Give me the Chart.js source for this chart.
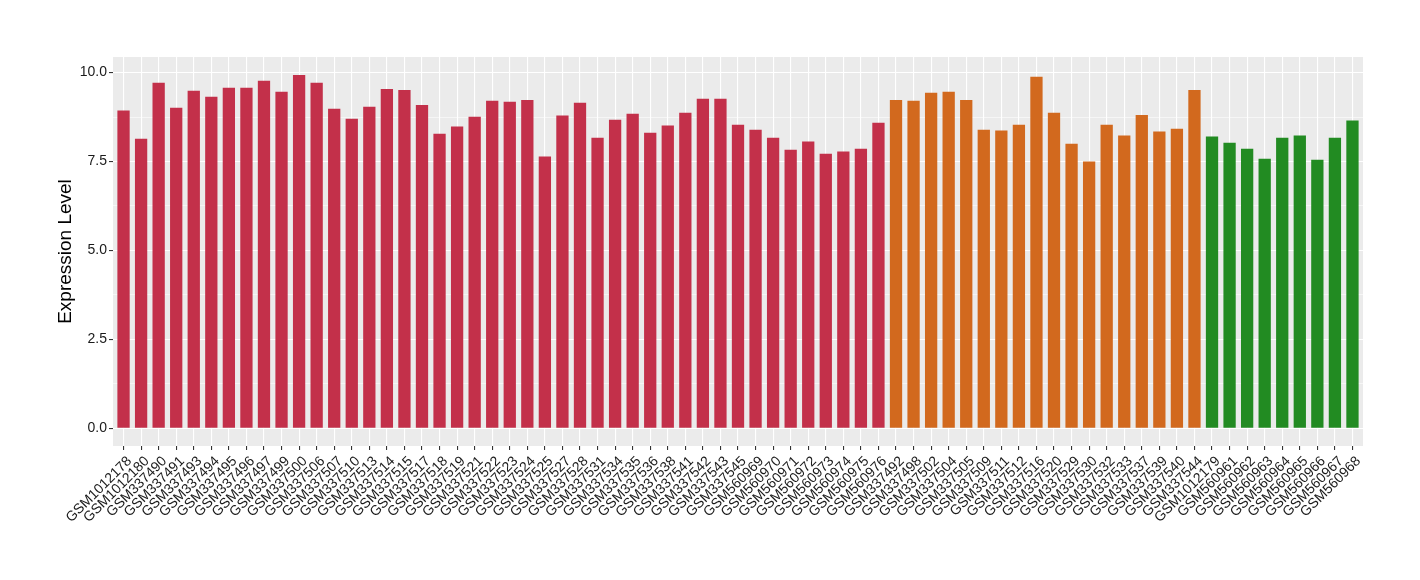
<!DOCTYPE html>
<html><head><meta charset="utf-8">
<script src="https://cdn.jsdelivr.net/npm/chart.js@4.4.1/dist/chart.umd.min.js"></script>
<style>html,body{margin:0;padding:0;background:#fff;}</style>
</head><body>
<canvas id="c" width="1420" height="580"></canvas>
<script>
const redSamples = ["GSM1012178","GSM1012180","GSM337490","GSM337491","GSM337493","GSM337494","GSM337495","GSM337496","GSM337497","GSM337499","GSM337500","GSM337506","GSM337507","GSM337510","GSM337513","GSM337514","GSM337515","GSM337517","GSM337518","GSM337519","GSM337521","GSM337522","GSM337523","GSM337524","GSM337525","GSM337527","GSM337528","GSM337531","GSM337534","GSM337535","GSM337536","GSM337538","GSM337541","GSM337542","GSM337543","GSM337545","GSM560969","GSM560970","GSM560971","GSM560972","GSM560973","GSM560974","GSM560975","GSM560976"];
const redValues = [8.93,8.14,9.71,9.01,9.49,9.32,9.57,9.57,9.77,9.46,9.93,9.71,8.98,8.70,9.04,9.54,9.51,9.09,8.28,8.48,8.76,9.21,9.18,9.23,7.64,8.79,9.15,8.17,8.67,8.84,8.31,8.51,8.87,9.26,9.26,8.53,8.39,8.17,7.83,8.06,7.72,7.78,7.86,8.59];
const orangeSamples = ["GSM337492","GSM337498","GSM337502","GSM337504","GSM337505","GSM337509","GSM337511","GSM337512","GSM337516","GSM337520","GSM337529","GSM337530","GSM337532","GSM337533","GSM337537","GSM337539","GSM337540","GSM337544"];
const orangeValues = [9.23,9.21,9.43,9.46,9.23,8.39,8.37,8.53,9.88,8.87,8.00,7.50,8.53,8.23,8.81,8.34,8.42,9.51];
const greenSamples = ["GSM1012179","GSM560961","GSM560962","GSM560963","GSM560964","GSM560965","GSM560966","GSM560967","GSM560968"];
const greenValues = [8.20,8.03,7.86,7.58,8.17,8.23,7.55,8.17,8.65];
const yMajorTicks = [0, 2.5, 5, 7.5, 10];
const yMinorTicks = [1.25, 3.75, 6.25, 8.75];
const groupColors = ["#C3304A", "#D2691E", "#228B22"];

const categories = [...redSamples, ...orangeSamples, ...greenSamples];
const values = [...redValues, ...orangeValues, ...greenValues];
const barColors = [
  ...redSamples.map(() => groupColors[0]),
  ...orangeSamples.map(() => groupColors[1]),
  ...greenSamples.map(() => groupColors[2])
];
const FONT = '"Liberation Sans", Arial, Helvetica, sans-serif';
const isMajor = v => yMajorTicks.some(t => Math.abs(t - v) < 1e-9);

const panelBg = {
  id: 'panelBg',
  beforeDraw(chart) {
    const {ctx, chartArea: a} = chart;
    ctx.save();
    ctx.fillStyle = '#EBEBEB';
    ctx.fillRect(a.left, a.top, a.right - a.left, a.bottom - a.top);
    ctx.restore();
  }
};

new Chart(document.getElementById('c'), {
  type: 'bar',
  data: {
    datasets: [{
      data: categories.map((c, i) => ({x: i, y: values[i]})),
      backgroundColor: barColors,
      borderWidth: 0,
      barPercentage: 0.7,
      categoryPercentage: 1.0
    }]
  },
  options: {
    responsive: false,
    animation: false,
    layout: {padding: {top: 57, right: 57, left: 0, bottom: 0}},
    plugins: {legend: {display: false}, tooltip: {enabled: false}},
    scales: {
      x: {
        type: 'linear',
        min: -0.6,
        max: categories.length - 1 + 0.6,
        offset: false,
        afterBuildTicks: s => { s.ticks = categories.map((c, i) => ({value: i})); },
        afterFit: s => { s.height = 134; },
        border: {display: false},
        grid: {offset: false, color: '#FFFFFF', lineWidth: 1.1, drawTicks: true, tickLength: 4, tickColor: '#333333'},
        ticks: {
          autoSkip: false, maxRotation: 45, minRotation: 45,
          padding: 3, labelOffset: 6,
          color: '#1A1A1A',
          font: {family: FONT, size: 14},
          callback: v => categories[v]
        }
      },
      y: {
        min: -0.497,
        max: 10.437,
        afterBuildTicks: s => { s.ticks = [...yMajorTicks, ...yMinorTicks].sort((a, b) => a - b).map(v => ({value: v})); },
        afterFit: s => { s.width = 113; },
        border: {display: false},
        grid: {
          offset: false,
          color: '#FFFFFF',
          lineWidth: c => isMajor(c.tick.value) ? 1.1 : 0.55,
          drawTicks: true, tickLength: 4,
          tickColor: c => isMajor(c.tick.value) ? '#333333' : 'rgba(0,0,0,0)'
        },
        ticks: {
          padding: 2,
          color: '#1A1A1A',
          font: {family: FONT, size: 14},
          callback: v => isMajor(v) ? v.toFixed(1) : ''
        },
        title: {
          display: true, text: 'Expression Level', color: '#000000',
          font: {family: FONT, size: 19},
          padding: {top: 54, bottom: 0}
        }
      }
    }
  },
  plugins: [panelBg]
});
</script>
</body></html>
